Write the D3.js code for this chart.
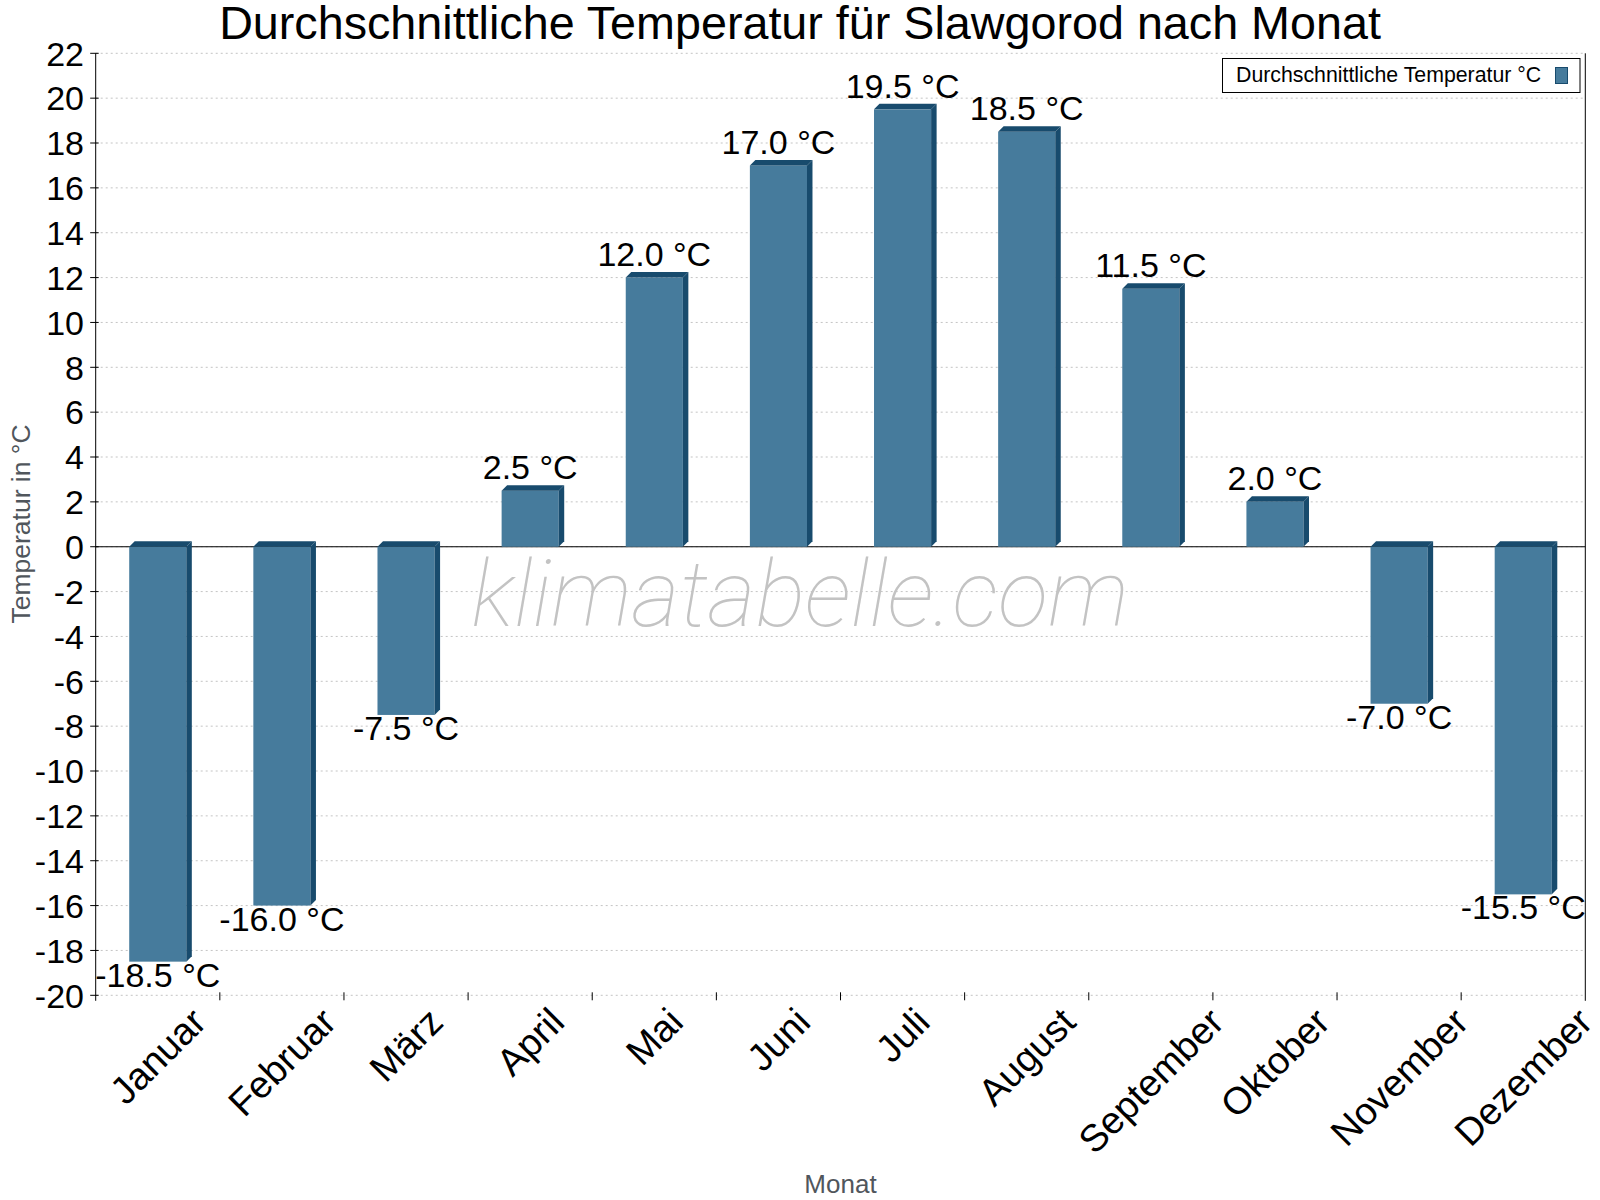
<!DOCTYPE html>
<html>
<head>
<meta charset="utf-8">
<script src="https://cdn.jsdelivr.net/npm/d3@7"></script>
<style>
	body { margin: 0; background: #fff; }
	svg { display: block; font-family: "Liberation Sans", Arial, sans-serif; }
</style>
</head>
<body>
<div id="chart"></div>
<script>
var months = ["Januar", "Februar", "März", "April", "Mai", "Juni", "Juli", "August", "September", "Oktober", "November", "Dezember"];
var temps = [-18.5, -16.0, -7.5, 2.5, 12.0, 17.0, 19.5, 18.5, 11.5, 2.0, -7.0, -15.5];
var yTicks = d3.range(-20, 23, 2);
var seriesName = "Durchschnittliche Temperatur °C";

var w = 1600;
var h = 1200;
var plotLeft = 95.7, plotRight = 1585.3, plotTop = 53.3, plotBottom = 995.3;
var depth = 5.5;
var front = "#467b9c";
var dark = "#184b6d";

var svg = d3.select("#chart")
			.append("svg")
			.attr("width", w)
			.attr("height", h);

var xScale = d3.scaleBand()
			   .domain(months)
			   .range([plotLeft, plotRight]);

var yScale = d3.scaleLinear()
			   .domain([-20, 22])
			   .range([plotBottom, plotTop]);

var barW = xScale.bandwidth() * 0.46;

// grid
svg.selectAll("line.grid")
   .data(yTicks)
   .enter()
   .append("line")
   .attr("class", "grid")
   .attr("x1", plotLeft)
   .attr("x2", plotRight)
   .attr("y1", function(d) { return yScale(d); })
   .attr("y2", function(d) { return yScale(d); })
   .attr("stroke", "#c4c4c4")
   .attr("stroke-width", 1)
   .attr("stroke-dasharray", "2,3");

// watermark
svg.append("text")
   .attr("x", 800)
   .attr("y", 626)
   .attr("text-anchor", "middle")
   .style("font-family", "Roboto")
   .style("font-weight", 100)
   .style("font-style", "italic")
   .style("font-size", "93px")
   .attr("fill", "#c3c3c3")
   .text("klimatabelle.com");

// zero line
svg.append("line")
   .attr("x1", plotLeft)
   .attr("x2", plotRight)
   .attr("y1", yScale(0))
   .attr("y2", yScale(0))
   .attr("stroke", "#000")
   .attr("stroke-width", 1.2);

// bars
var bars = svg.selectAll("g.bar")
			  .data(temps)
			  .enter()
			  .append("g")
			  .attr("class", "bar");

function geom(d, i) {
	var x = xScale(months[i]) + (xScale.bandwidth() - barW) / 2;
	var y0 = yScale(Math.max(d, 0));
	var y1 = yScale(Math.min(d, 0));
	return { x: x, y0: y0, y1: y1 };
}

bars.append("rect")
	.attr("x", function(d, i) { return geom(d, i).x; })
	.attr("y", function(d, i) { return geom(d, i).y0; })
	.attr("width", barW)
	.attr("height", function(d, i) { var g = geom(d, i); return g.y1 - g.y0; })
	.attr("fill", front);

bars.append("polygon")
	.attr("points", function(d, i) {
		var g = geom(d, i);
		return [[g.x, g.y0], [g.x + depth, g.y0 - depth], [g.x + barW + depth, g.y0 - depth], [g.x + barW, g.y0]].join(" ");
	})
	.attr("fill", dark);

bars.append("polygon")
	.attr("points", function(d, i) {
		var g = geom(d, i);
		return [[g.x + barW, g.y0], [g.x + barW + depth, g.y0 - depth], [g.x + barW + depth, g.y1 - depth], [g.x + barW, g.y1]].join(" ");
	})
	.attr("fill", dark);

bars.append("text")
	.attr("x", function(d, i) { return xScale(months[i]) + xScale.bandwidth() / 2; })
	.attr("y", function(d) { return d >= 0 ? yScale(d) - 11.5 : yScale(d) + 25; })
	.attr("text-anchor", "middle")
	.style("font-size", "34px")
	.attr("fill", "#000")
	.text(function(d) { return d.toFixed(1) + " °C"; });

// axes lines
svg.append("line")
   .attr("x1", plotLeft).attr("x2", plotLeft)
   .attr("y1", plotTop).attr("y2", plotBottom + 5.5)
   .attr("stroke", "#000");
svg.append("line")
   .attr("x1", plotRight).attr("x2", plotRight)
   .attr("y1", plotTop).attr("y2", plotBottom + 5.5)
   .attr("stroke", "#000");

// y ticks + labels
svg.selectAll("line.ytick")
   .data(yTicks)
   .enter()
   .append("line")
   .attr("x1", plotLeft - 5.5)
   .attr("x2", plotLeft + 3)
   .attr("y1", function(d) { return yScale(d); })
   .attr("y2", function(d) { return yScale(d); })
   .attr("stroke", "#000");

svg.selectAll("text.ylab")
   .data(yTicks)
   .enter()
   .append("text")
   .attr("class", "ylab")
   .attr("x", 84)
   .attr("y", function(d) { return yScale(d); })
   .attr("dy", "0.36em")
   .attr("text-anchor", "end")
   .style("font-size", "34px")
   .text(function(d) { return d; });

// x ticks at band edges
svg.selectAll("line.xtick")
   .data(months.slice(1))
   .enter()
   .append("line")
   .attr("x1", function(d) { return xScale(d); })
   .attr("x2", function(d) { return xScale(d); })
   .attr("y1", plotBottom - 3)
   .attr("y2", plotBottom + 5)
   .attr("stroke", "#000");

// x labels, rotated, bounding box centered under band and top aligned
var xFont = 38;
var ascent = 0.905 * xFont, descent = 0.212 * xFont, c = Math.SQRT1_2;
svg.selectAll("text.xlab")
   .data(months)
   .enter()
   .append("text")
   .attr("class", "xlab")
   .attr("text-anchor", "middle")
   .style("font-size", xFont + "px")
   .text(function(d) { return d; })
   .attr("transform", function(d) {
	var tw = this.getComputedTextLength();
	var minY = c * (-tw / 2 - ascent);
	var midX = c * (descent - ascent) / 2;
	var ax = xScale(d) + xScale.bandwidth() / 2 - midX;
	var ay = 1000 - minY;
	return "translate(" + ax + "," + ay + ") rotate(-45)";
   });

// titles
svg.append("text")
   .attr("x", 800)
   .attr("y", 38.5)
   .attr("text-anchor", "middle")
   .style("font-size", "46.7px")
   .text("Durchschnittliche Temperatur für Slawgorod nach Monat");

svg.append("text")
   .attr("transform", "translate(29.5," + 524 + ") rotate(-90)")
   .attr("text-anchor", "middle")
   .style("font-size", "26.5px")
   .attr("fill", "#50565c")
   .text("Temperatur in °C");

svg.append("text")
   .attr("x", (plotLeft + plotRight) / 2)
   .attr("y", 1193)
   .attr("text-anchor", "middle")
   .style("font-size", "26px")
   .attr("fill", "#50565c")
   .text("Monat");

// legend
var legend = svg.append("g");
legend.append("rect")
	  .attr("x", 1222.5)
	  .attr("y", 58.5)
	  .attr("width", 357.5)
	  .attr("height", 34)
	  .attr("fill", "#fff")
	  .attr("stroke", "#000");
legend.append("text")
	  .attr("x", 1236)
	  .attr("y", 81.7)
	  .style("font-size", "21.3px")
	  .text(seriesName);
legend.append("rect")
	  .attr("x", 1555.5)
	  .attr("y", 67.5)
	  .attr("width", 12)
	  .attr("height", 16)
	  .attr("fill", front)
	  .attr("stroke", dark);
</script>
</body>
</html>
